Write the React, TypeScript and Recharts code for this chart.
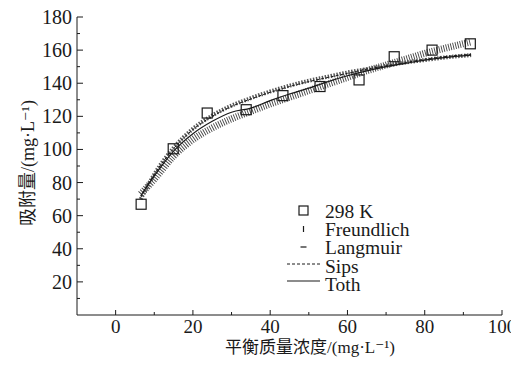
import React from 'react';
import { ComposedChart, Line, Scatter, XAxis, YAxis } from 'recharts';

// measured points, 298 K
const expX = [6.6, 14.9, 23.7, 33.8, 43.3, 52.9, 63, 72.1, 81.9, 91.8];
const expY = [66.9, 100.4, 122, 124, 132.5, 138, 142, 156, 160, 163.8];

// fitted curves
const fitX = [6.5, 10, 15, 20, 25, 30, 35, 40, 45, 50, 55, 60, 65, 70, 75, 80, 85, 92];
const freundlich = [73, 82, 96, 106, 113, 118.5, 123, 127.5, 131.5, 135.5, 139.5, 143.5, 147.5, 151, 154.5, 158, 161, 165];
const langmuir = [70, 85, 101, 112.5, 120.5, 126.5, 131, 135, 138.5, 141.5, 144, 146.5, 148.5, 150.5, 152.5, 154, 155.5, 157];
const sips = [71, 85, 100.5, 112, 120, 126, 130.5, 134.5, 138, 141, 143.5, 146, 148.5, 150.5, 152.5, 154.5, 156, 157.5];
const toth = [72, 84, 99, 109.5, 117, 122.5, 125, 129.5, 133.5, 137, 141, 144.5, 147.5, 150, 152, 154, 155.5, 157];

const xTicks = [0, 10, 20, 30, 40, 50, 60, 70, 80, 90, 100];
const yTicks = [10, 20, 30, 40, 50, 60, 70, 80, 90, 100, 110, 120, 130, 140, 150, 160, 170, 180];

const legendItems = ['298 K', 'Freundlich', 'Langmuir', 'Sips', 'Toth'];

const FONT = "Liberation Serif, DejaVu Serif, serif";
const CJK = "Noto Sans CJK SC, sans-serif";
const INK = '#1a1a1a';

const points = expX.map((x, i) => ({ x, y: expY[i] }));
const curve = (ys: number[]) => fitX.map((x, i) => ({ x, y: ys[i] }));

const XTick = (props: any) => {
  const { x, y, payload } = props;
  const major = payload.value % 20 === 0;
  return (
    <g>
      <line x1={x} x2={x} y1={y} y2={y - (major ? 5 : 3)} stroke={INK} strokeWidth={1} />
      {major && (
        <text x={x} y={y + 18} textAnchor="middle" fontSize={19} style={{ fontFamily: FONT }} fill={INK}>
          {payload.value}
        </text>
      )}
    </g>
  );
};

const YTick = (props: any) => {
  const { x, y, payload } = props;
  const major = payload.value % 20 === 0;
  return (
    <g>
      <line x1={x} x2={x + (major ? 6 : 3)} y1={y} y2={y} stroke={INK} strokeWidth={1} />
      {major && (
        <text x={x - 5} y={y + 7} textAnchor="end" fontSize={20} style={{ fontFamily: FONT }} fill={INK}>
          {payload.value}
        </text>
      )}
    </g>
  );
};

const Square = (props: any) => {
  const { cx, cy } = props;
  return <rect x={cx - 5} y={cy - 5} width={10} height={10} fill="none" stroke={INK} strokeWidth={1.2} />;
};

const App: React.FC = () => {
  return (
    <div style={{ margin: -8, position: 'relative', width: 519, height: 365, background: '#fff' }}>
      <ComposedChart width={519} height={365} margin={{ top: 17, right: 17, left: 0, bottom: 0 }}>
        <XAxis
          type="number"
          dataKey="x"
          domain={[-10, 100]}
          ticks={xTicks}
          height={50}
          tickSize={0}
          tickMargin={0}
          tickLine={false}
          tick={<XTick />}
          stroke={INK}
          allowDataOverflow
        />
        <YAxis
          type="number"
          dataKey="y"
          domain={[0, 180]}
          ticks={yTicks}
          width={77}
          tickSize={0}
          tickMargin={0}
          tickLine={false}
          tick={<YTick />}
          stroke={INK}
          interval={0}
        />
        <Line data={curve(freundlich)} dataKey="y" type="monotone" stroke="#444" strokeWidth={7} strokeDasharray="0.9 1.5" dot={false} isAnimationActive={false} />
        <Line data={curve(langmuir)} dataKey="y" type="monotone" stroke="#555" strokeWidth={4} strokeDasharray="1.5 1.5" dot={false} isAnimationActive={false} />
        <Line data={curve(sips)} dataKey="y" type="monotone" stroke={INK} strokeWidth={1} strokeDasharray="3 2" dot={false} isAnimationActive={false} />
        <Line data={curve(toth)} dataKey="y" type="monotone" stroke={INK} strokeWidth={1.2} dot={false} isAnimationActive={false} />
        <Scatter data={points} dataKey="y" shape={<Square />} isAnimationActive={false} />
      </ComposedChart>
      <svg width={519} height={365} style={{ position: 'absolute', left: 0, top: 0, pointerEvents: 'none', fontFamily: FONT, opacity: 0.999 }}>
        <g fill={INK}>
          <text x={310} y={353} textAnchor="middle" fontSize={17}>
            <tspan style={{ fontFamily: CJK }}>平衡质量浓度</tspan>/(mg·L⁻¹)
          </text>
          <text x={0} y={0} transform="translate(34,163) rotate(-90)" textAnchor="middle" fontSize={18}>
            <tspan style={{ fontFamily: CJK }}>吸附量</tspan>/(mg·L⁻¹)
          </text>
          {legendItems.map((name, i) => (
            <text key={name} x={325} y={218 + i * 18.2} fontSize={19.5}>
              {name}
            </text>
          ))}
        </g>
        <rect x={299} y={206} width={9} height={9} fill="none" stroke={INK} strokeWidth={1.2} />
        <line x1={303.5} x2={303.5} y1={226} y2={232} stroke={INK} strokeWidth={1.2} />
        <line x1={300.5} x2={306.5} y1={247} y2={247} stroke={INK} strokeWidth={1.2} />
        <line x1={287} x2={320} y1={264} y2={264} stroke={INK} strokeWidth={1} strokeDasharray="3 2" />
        <line x1={287} x2={320} y1={281} y2={281} stroke={INK} strokeWidth={1.2} />
      </svg>
    </div>
  );
};

export default App;
